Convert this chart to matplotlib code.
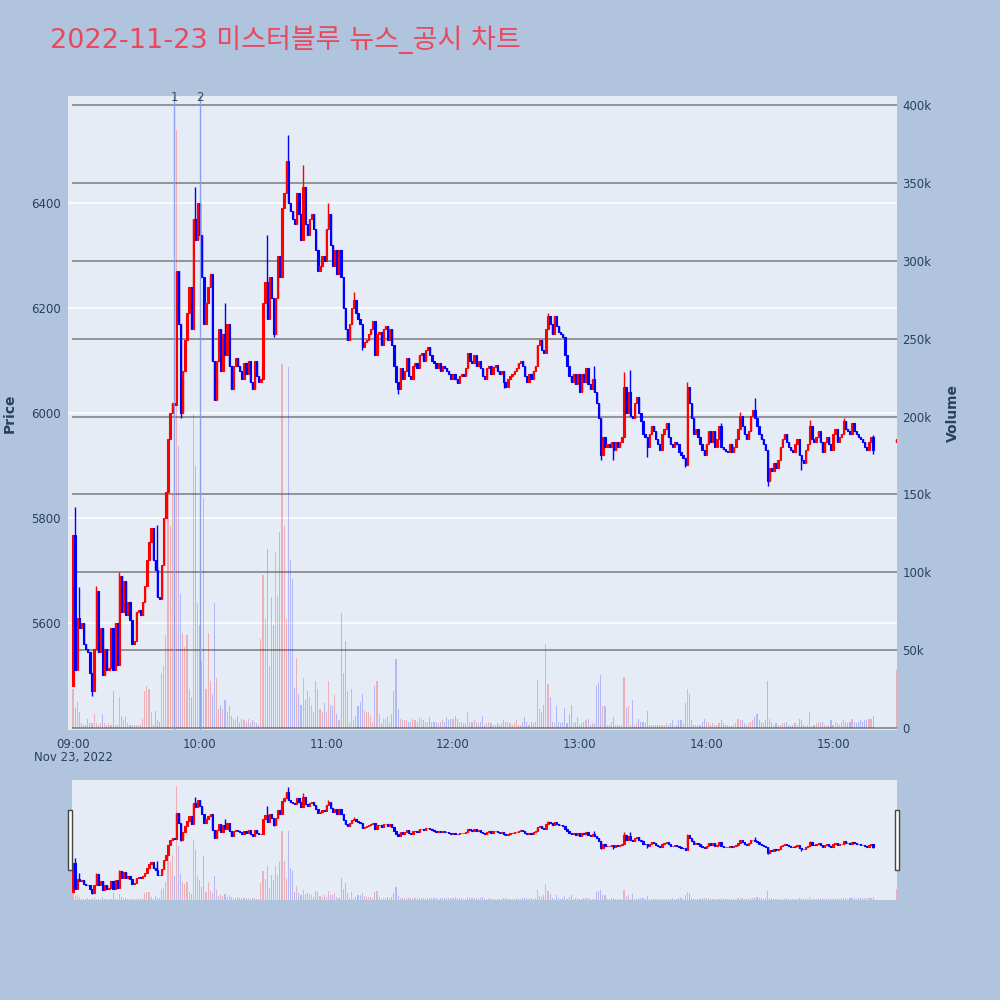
import numpy as np
import pandas as pd
import matplotlib
matplotlib.use("Agg")
import matplotlib.pyplot as plt
import matplotlib.dates as mdates
import matplotlib.transforms as mtransforms
from matplotlib.collections import LineCollection
from matplotlib.patches import Rectangle
from matplotlib.ticker import FuncFormatter

plt.rcParams['font.family'] = ['DejaVu Sans', 'Noto Sans CJK KR']

# ---------------- data ----------------
title = "2022-11-23 미스터블루 뉴스_공시 차트"
session_start = "2022-11-23 09:00"
auction_time = "2022-11-23 15:30"
first_open = 5480

closes = [
    5768, 5510, 5610, 5590, 5600, 5560, 5550, 5545, 5505, 5470,
    5550, 5660, 5545, 5590, 5500, 5550, 5510, 5515, 5590, 5510,
    5600, 5520, 5690, 5620, 5680, 5615, 5640, 5605, 5560, 5565,
    5620, 5625, 5615, 5640, 5670, 5720, 5755, 5780, 5720, 5700,
    5650, 5645, 5710, 5800, 5850, 5950, 6000, 6020, 6015, 6270,
    6170, 6000, 6080, 6140, 6190, 6240, 6160, 6370, 6330, 6400,
    6340, 6260, 6170, 6210, 6240, 6265, 6100, 6025, 6100, 6160,
    6080, 6150, 6110, 6170, 6090, 6045, 6090, 6105, 6090, 6080,
    6065, 6095, 6075, 6100, 6060, 6045, 6100, 6070, 6060, 6065,
    6210, 6250, 6180, 6260, 6220, 6150, 6220, 6300, 6260, 6390,
    6420, 6480, 6400, 6385, 6370, 6360, 6420, 6380, 6330, 6430,
    6360, 6340, 6370, 6380, 6350, 6310, 6270, 6280, 6300, 6290,
    6350, 6380, 6320, 6280, 6310, 6265, 6310, 6260, 6200, 6160,
    6140, 6170, 6200, 6215, 6190, 6180, 6170, 6125, 6135, 6140,
    6150, 6160, 6175, 6110, 6150, 6155, 6130, 6160, 6165, 6140,
    6160, 6130, 6090, 6060, 6045, 6085, 6065, 6080, 6105, 6070,
    6065, 6090, 6095, 6085, 6110, 6115, 6100, 6120, 6125, 6110,
    6100, 6095, 6085, 6095, 6080, 6090, 6085, 6080, 6075, 6065,
    6075, 6065, 6057, 6070, 6075, 6070, 6085, 6115, 6100, 6095,
    6110, 6090, 6100, 6085, 6070, 6065, 6085, 6090, 6075, 6088,
    6092, 6080, 6075, 6080, 6060, 6050, 6065, 6070, 6075, 6080,
    6085, 6095, 6100, 6090, 6070, 6060, 6075, 6065, 6080, 6090,
    6130, 6140, 6120, 6115, 6160, 6185, 6170, 6150, 6185, 6165,
    6155, 6150, 6145, 6110, 6090, 6070, 6060, 6075, 6055, 6075,
    6040, 6075, 6060, 6085, 6055, 6045, 6065, 6040, 6020, 5990,
    5920, 5955, 5935, 5940, 5935, 5945, 5930, 5945, 5935, 5945,
    5955, 6050, 6000, 6040, 5995, 5990, 6020, 6030, 6000, 5985,
    5960, 5955, 5935, 5960, 5975, 5965, 5950, 5940, 5930, 5960,
    5970, 5980, 5955, 5940, 5935, 5945, 5940, 5925, 5920, 5915,
    5900, 6050, 6020, 5990, 5960, 5970, 5955, 5940, 5930, 5920,
    5940, 5965, 5945, 5965, 5935, 5950, 5975, 5935, 5932, 5928,
    5925, 5940, 5925, 5935, 5950, 5970, 5995, 5975, 5960, 5950,
    5965, 5995, 6005, 5990, 5975, 5960, 5950, 5940, 5930, 5870,
    5895, 5890, 5905, 5895, 5910, 5935, 5950, 5960, 5945, 5935,
    5930, 5925, 5940, 5950, 5920, 5910, 5905, 5930, 5940, 5975,
    5950, 5945, 5955, 5965, 5945, 5925, 5945, 5955, 5940, 5930,
    5960, 5970, 5945, 5955, 5960, 5985, 5970, 5965, 5960, 5980,
    5965, 5960, 5955, 5950, 5945, 5935, 5930, 5945, 5955, 5930,
]
auction_open = 5945
auction_close = 5950

wick_high = {1: 5820, 3: 5669, 11: 5670, 22: 5697, 40: 5787, 58: 6430, 72: 6209,
             92: 6340, 102: 6530, 109: 6472, 121: 6400, 133: 6230, 225: 6190,
             247: 6090, 261: 6079, 264: 6082, 291: 6060, 307: 5980, 316: 6002,
             323: 6028, 349: 5987, 365: 5990, 379: 5958}
wick_low = {0: 5480, 9: 5460, 51: 5990, 95: 6145, 137: 6120, 154: 6037, 204: 6047,
            250: 5910, 256: 5910, 272: 5917, 290: 5898, 329: 5860, 345: 5891, 379: 5922}

volume_k = [
    25, 13, 17, 10, 3, 2, 2, 6, 3, 3,
    9, 3, 2, 3, 9, 3, 2, 3, 2, 24,
    2, 2, 20, 8, 5, 7, 3, 2, 2, 2,
    2, 2, 2, 6, 24, 27, 25, 10, 2, 11,
    5, 4, 35, 40, 60, 155, 130, 150, 80, 384,
    181, 86, 61, 52, 60, 25, 20, 202, 168, 80,
    66, 43, 148, 25, 61, 30, 22, 80, 32, 12,
    15, 12, 18, 10, 14, 8, 6, 5, 8, 4,
    6, 5, 4, 6, 3, 5, 4, 3, 2, 57,
    98, 70, 115, 40, 84, 66, 113, 85, 126, 234,
    130, 70, 232, 108, 96, 26, 45, 22, 15, 32,
    18, 24, 20, 15, 10, 30, 25, 12, 10, 16,
    10, 30, 15, 14, 21, 9, 5, 74, 35, 56,
    24, 4, 25, 5, 8, 14, 17, 22, 11, 10,
    10, 8, 4, 27, 30, 9, 3, 6, 6, 8,
    4, 9, 24, 44, 12, 6, 5, 5, 5, 4,
    4, 6, 5, 4, 7, 6, 5, 4, 4, 7,
    4, 4, 4, 3, 4, 5, 4, 7, 5, 6,
    6, 8, 6, 4, 4, 3, 3, 10, 4, 4,
    5, 4, 3, 4, 8, 2, 3, 4, 3, 2,
    2, 3, 2, 3, 5, 4, 4, 3, 2, 3,
    5, 2, 2, 4, 7, 4, 2, 4, 3, 4,
    31, 12, 10, 15, 54, 28, 20, 4, 3, 14,
    4, 3, 4, 13, 3, 9, 15, 3, 4, 7,
    2, 3, 4, 5, 6, 2, 3, 3, 27, 29,
    34, 14, 14, 2, 2, 4, 7, 2, 2, 2,
    2, 33, 13, 14, 2, 18, 2, 3, 6, 4,
    4, 3, 11, 2, 2, 2, 2, 2, 2, 2,
    2, 3, 2, 3, 5, 1, 2, 5, 5, 3,
    16, 25, 22, 5, 2, 2, 2, 2, 4, 6,
    4, 4, 2, 3, 2, 2, 3, 5, 3, 2,
    2, 1, 1, 2, 3, 6, 5, 5, 3, 2,
    3, 4, 5, 7, 9, 5, 4, 3, 5, 30,
    6, 4, 2, 3, 2, 2, 3, 3, 4, 2,
    1, 2, 3, 2, 6, 5, 2, 1, 2, 10,
    1, 2, 3, 4, 3, 4, 2, 1, 2, 5,
    2, 4, 3, 2, 4, 5, 4, 3, 4, 6,
    4, 3, 4, 5, 4, 5, 5, 6, 6, 8,
]
auction_volume_k = 37

news_times = ["2022-11-23 09:48", "2022-11-23 10:00"]
news_labels = ["1", "2"]
price_ticks = [5600, 5800, 6000, 6200, 6400]
volume_ticks = [0, 50000, 100000, 150000, 200000, 250000, 300000, 350000, 400000]
hour_ticks = ["09:00", "10:00", "11:00", "12:00", "13:00", "14:00", "15:00"]

# ---------------- derived arrays ----------------
times = pd.date_range(session_start, periods=len(closes), freq="min")
times = times.append(pd.DatetimeIndex([auction_time]))
x = mdates.date2num(times.to_pydatetime())
o = np.array([first_open] + closes[:-1] + [auction_open], dtype=float)
c = np.array(closes + [auction_close], dtype=float)
h = np.maximum(o, c)
l = np.minimum(o, c)
for k, v in wick_high.items():
    h[k] = max(h[k], v)
for k, v in wick_low.items():
    l[k] = min(l[k], v)
vol = np.array(volume_k + [auction_volume_k], dtype=float) * 1000
up = c >= o
ccol = np.where(up, "#FF0000", "#0000FF")
vcol = [(1, 0, 0, 0.25) if u else (0, 0, 1, 0.22) for u in up]

MIN = 1.0 / 1440.0
BG = "#B0C4DE"
PLOT_BG = "#E5ECF6"
TXT = "#2a3f5f"

fig = plt.figure(figsize=(10, 10), dpi=100, facecolor=BG)


def draw(axp, axv, lw_body=0.8):
    axp.vlines(x, l, h, colors=ccol, lw=1.0, zorder=3)
    bottom = np.minimum(o, c)
    height = np.maximum(np.abs(c - o), 1.5)
    axp.bar(x, height, bottom=bottom, width=0.62 * MIN, color=ccol,
            edgecolor=ccol, linewidth=lw_body, zorder=3)
    axv.bar(x, vol, width=0.55 * MIN, color=vcol, linewidth=0, zorder=2)
    axp.set_ylim(5396, 6604)
    axv.set_ylim(-1300, 406000)


# ---------------- main plot ----------------
ax = fig.add_axes([0.068, 0.270, 0.829, 0.634])
ax.set_facecolor(PLOT_BG)
ax2 = ax.twinx()
draw(ax, ax2)

xl = (x[0] - 2.37 * MIN, x[0] + 390.3 * MIN)
ax.set_xlim(*xl)

ax.set_yticks(price_ticks)
ax.grid(axis="y", color="white", lw=1.1, zorder=0)
ax.set_axisbelow(True)

trans = mtransforms.blended_transform_factory(ax.transAxes, ax2.transData)
segs = [[(0.005, v), (1.0, v)] for v in volume_ticks]
lc = LineCollection(segs, colors="#8c8c8c", linewidths=1.3, transform=trans, zorder=1)
ax.add_collection(lc, autolim=False)

ax2.set_yticks(volume_ticks)
ax2.yaxis.set_major_formatter(FuncFormatter(lambda v, p: "0" if v == 0 else f"{int(v/1000)}k"))

hx = mdates.date2num(pd.to_datetime(["2022-11-23 " + s for s in hour_ticks]).to_pydatetime())
ax.set_xticks(hx)
ax.set_xticklabels(hour_ticks)

for a in (ax, ax2):
    for s in a.spines.values():
        s.set_visible(False)
    a.tick_params(length=0, colors=TXT, labelsize=8.5)
ax.tick_params(axis="y", pad=5)
ax2.tick_params(axis="y", pad=4)
ax.tick_params(axis="x", pad=5.5)

nx = mdates.date2num(pd.to_datetime(news_times).to_pydatetime())
ntrans = mtransforms.blended_transform_factory(ax2.transData, ax2.transAxes)
for xv, lab in zip(nx, news_labels):
    ax2.axvline(xv, color="#7f9af0", lw=1.0, alpha=0.9, zorder=5)
    ax2.text(xv, 0.998, lab, transform=ntrans, ha="center", va="center",
             fontsize=8.5, color="#444444", zorder=6)

fig.text(0.073, 0.242, "Nov 23, 2022", ha="center", va="center", fontsize=8.5, color=TXT)
fig.text(0.010, 0.587, "Price", rotation=90, ha="center", va="center",
         fontsize=10, fontweight="bold", color=TXT)
fig.text(0.953, 0.587, "Volume", rotation=90, ha="center", va="center",
         fontsize=10, fontweight="bold", color=TXT)
fig.text(0.050, 0.960, title, ha="left", va="center", fontsize=19.5, color="#E8495E")

# ---------------- range slider ----------------
axs = fig.add_axes([0.072, 0.100, 0.825, 0.120])
axs.set_facecolor(PLOT_BG)
axs2 = axs.twinx()
draw(axs, axs2, lw_body=0.8)
axs.set_xlim(x[0] - 0.47 * MIN, xl[1])
for a in (axs, axs2):
    a.set_xticks([])
    a.set_yticks([])
    for s in a.spines.values():
        s.set_visible(False)

for hxpos in (0.068, 0.895):
    fig.patches.append(Rectangle((hxpos, 0.130), 0.004, 0.060, transform=fig.transFigure,
                                 facecolor="white", edgecolor="#444444", lw=1.0))

fig.savefig("out.png", dpi=100, facecolor=BG)
